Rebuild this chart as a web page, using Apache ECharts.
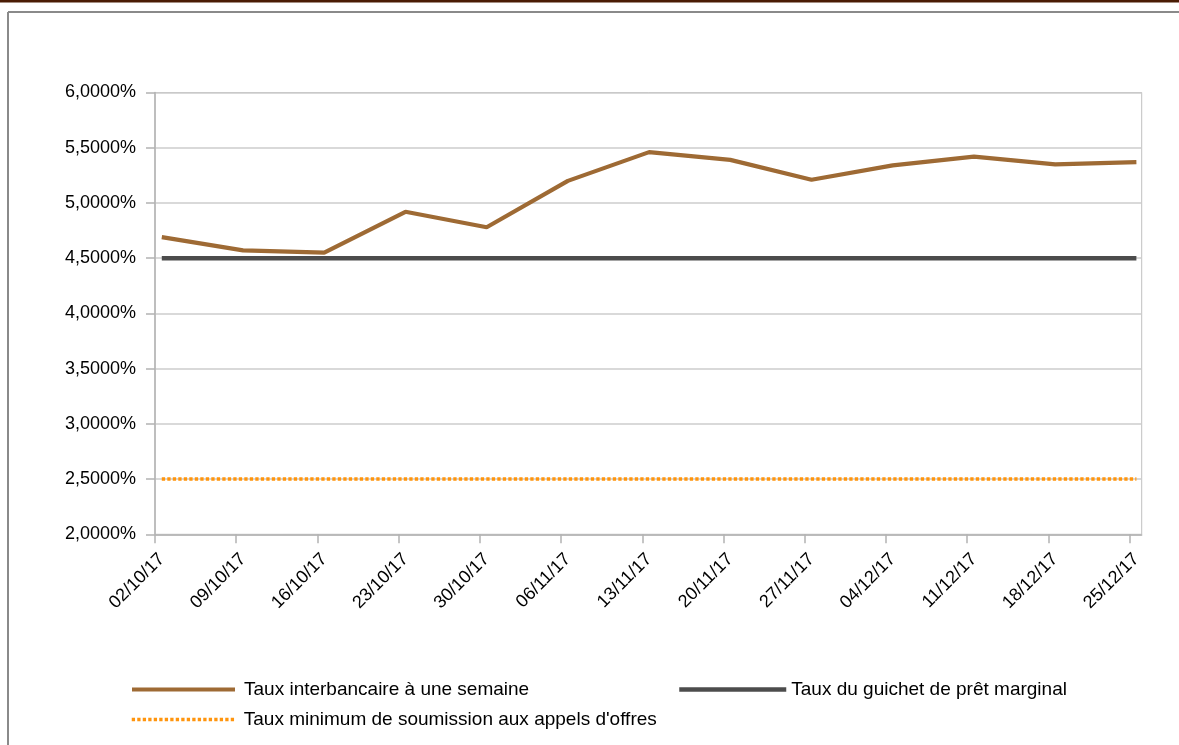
<!DOCTYPE html>
<html>
<head>
<meta charset="utf-8">
<script src="https://cdn.jsdelivr.net/npm/echarts@6/dist/echarts.min.js"></script>
<style>
html,body{margin:0;padding:0;background:#fff;}
#chart{width:1179px;height:745px;}
</style>
</head>
<body>
<div id="chart"></div>
<script>
// ---- data ----
const dates = ['02/10/17','09/10/17','16/10/17','23/10/17','30/10/17','06/11/17','13/11/17','20/11/17','27/11/17','04/12/17','11/12/17','18/12/17','25/12/17'];
const seriesNames = ['Taux interbancaire à une semaine','Taux du guichet de prêt marginal','Taux minimum de soumission aux appels d\'offres'];
const interbankRate = [4.69, 4.57, 4.55, 4.92, 4.78, 5.20, 5.46, 5.39, 5.21, 5.34, 5.42, 5.35, 5.37];
const marginalLendingRate = [4.5, 4.5, 4.5, 4.5, 4.5, 4.5, 4.5, 4.5, 4.5, 4.5, 4.5, 4.5, 4.5];
const minBidRate = [2.5, 2.5, 2.5, 2.5, 2.5, 2.5, 2.5, 2.5, 2.5, 2.5, 2.5, 2.5, 2.5];
const yMin = 2, yMax = 6, yStep = 0.5;

const FONT = 'Liberation Sans, Arial, sans-serif';
const gridTop = 92.5, gridHeight = 441.8;
const chart = echarts.init(document.getElementById('chart'));
const fmt = v => v.toFixed(4).replace('.', ',') + '%';
const legendText = {fontSize:19, fontFamily:FONT, color:'#000', padding:[0,0,0,4]};

chart.setOption({
  animation: false,
  backgroundColor: '#fff',
  graphic: [
    {type:'rect', shape:{x:0,y:0,width:1179,height:2.5}, style:{fill:'#4a1c04'}, silent:true},
    {type:'line', shape:{x1:8,y1:12,x2:1179,y2:12}, style:{stroke:'#8a8a8a',lineWidth:2}, silent:true},
    {type:'line', shape:{x1:8,y1:12,x2:8,y2:745}, style:{stroke:'#8a8a8a',lineWidth:2}, silent:true}
  ],
  grid: [
    {left:155, top:gridTop, width:986.7, height:gridHeight, show:true, borderColor:'#c0c0c0', borderWidth:1, backgroundColor:'transparent'},
    {left:155, top:gridTop, width:974.5, height:gridHeight},
    {left:161.8, top:gridTop, width:974.6, height:gridHeight}
  ],
  xAxis: [
    {gridIndex:0, type:'value', min:0, max:1, axisLine:{show:true, lineStyle:{color:'#b3b3b3', width:1.5}}, axisTick:{show:false}, axisLabel:{show:false}, splitLine:{show:false}},
    {gridIndex:1, type:'category', data:dates, boundaryGap:false,
      axisLine:{show:false},
      axisTick:{show:true, length:9, interval:0, lineStyle:{color:'#b3b3b3', width:1.5}},
      axisLabel:{show:false},
      splitLine:{show:false}},
    {gridIndex:2, type:'category', data:dates, boundaryGap:false,
      axisLine:{show:false}, axisTick:{show:false}, splitLine:{show:false},
      axisLabel:{rotate:45, interval:0, margin:22, fontSize:18, fontFamily:FONT, color:'#000'}}
  ],
  yAxis: [
    {gridIndex:0, type:'value', min:yMin, max:yMax, interval:yStep,
      axisLine:{show:true, lineStyle:{color:'#b3b3b3', width:1.5}},
      axisTick:{show:true, length:9, lineStyle:{color:'#b3b3b3', width:1.5}},
      axisLabel:{margin:19, fontSize:18, fontFamily:FONT, color:'#000', formatter:fmt},
      splitLine:{show:true, lineStyle:{color:'#cccccc', width:1.5}}},
    {gridIndex:1, type:'value', min:yMin, max:yMax, show:false, splitLine:{show:false}},
    {gridIndex:2, type:'value', min:yMin, max:yMax, show:false, splitLine:{show:false}}
  ],
  legend: [
    {data:[seriesNames[0]], left:130, top:680, padding:0, itemWidth:103, itemHeight:20,
      itemStyle:{opacity:0}, lineStyle:{width:4}, textStyle:legendText},
    {data:[seriesNames[1]], left:677, top:680, padding:0, itemWidth:107, itemHeight:20,
      itemStyle:{opacity:0}, lineStyle:{width:4.5}, textStyle:Object.assign({}, legendText, {padding:0})},
    {data:[seriesNames[2]], left:130, top:710, padding:0, itemWidth:103, itemHeight:20,
      itemStyle:{opacity:0}, lineStyle:{width:3.5}, textStyle:legendText}
  ],
  series: [
    {name:seriesNames[1], type:'line', xAxisIndex:2, yAxisIndex:2, data:marginalLendingRate, symbol:'none',
      lineStyle:{color:'#4c4c4c', width:4.5}, itemStyle:{color:'#4c4c4c'}},
    {name:seriesNames[2], type:'line', xAxisIndex:2, yAxisIndex:2, data:minBidRate, symbol:'none',
      lineStyle:{color:'#ff950e', width:3.5, type:[3.3,2.2]}, itemStyle:{color:'#ff950e'}},
    {name:seriesNames[0], type:'line', xAxisIndex:2, yAxisIndex:2, data:interbankRate, symbol:'none',
      lineStyle:{color:'#9e6a34', width:4.2}, itemStyle:{color:'#9e6a34'}}
  ]
});
</script>
</body>
</html>
